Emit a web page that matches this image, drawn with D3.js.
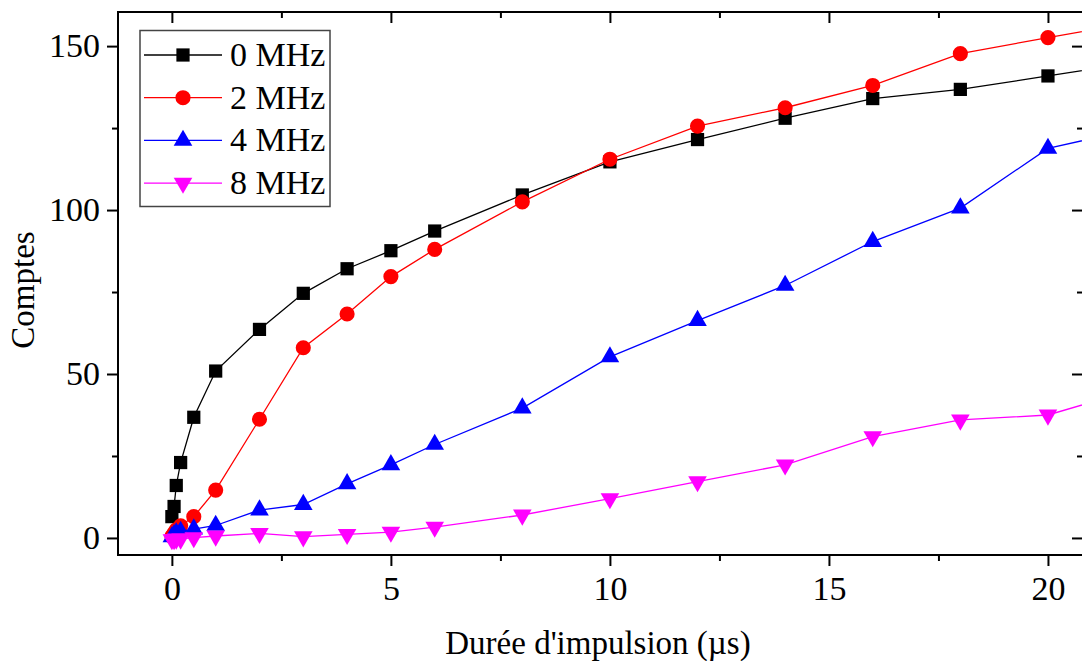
<!DOCTYPE html>
<html>
<head>
<script src="https://d3js.org/d3.v7.min.js"></script>
<style>
  body { margin: 0; background: #fff; }
  text { font-family: "Liberation Serif", "Times New Roman", serif; }
</style>
</head>
<body>
<script>

var w = 1082, h = 661;

// pulse duration (µs)
var durations = [0, 0.05, 0.1, 0.2, 0.5, 1, 2, 3, 4, 5, 6, 8, 10, 12, 14, 16, 18, 20, 22];

var counts0 = [6.5, 9.6, 16, 23, 36.8, 50.9, 63.6, 74.6, 82.1, 87.6, 93.6, 104.6, 114.7, 121.5, 128.0, 134.0, 136.8, 140.9, 145];
var counts2 = [0.5, 1.5, 2.5, 3.7, 6.5, 14.6, 36.2, 58.0, 68.3, 79.7, 88.0, 102.5, 115.5, 125.6, 131.2, 138.0, 147.7, 152.6, 157.2];
var counts4 = [0.3, 1, 1.5, 2, 2.7, 3.8, 8.5, 10.2, 16.5, 22.3, 28.5, 39.6, 55.2, 66.3, 77.0, 90.4, 100.6, 118.8, 124.8];
var counts8 = [-0.5, -0.5, -0.3, -0.3, 0.1, 0.6, 1.4, 0.4, 1.1, 1.8, 3.3, 7.0, 12.0, 17.2, 22.3, 30.9, 36.0, 37.5, 45.3];

var seriesNames = ["0 MHz", "2 MHz", "4 MHz", "8 MHz"];
var seriesColors = ["#000000", "#ff0000", "#0000ff", "#ff00ff"];

var xTicks = [0, 5, 10, 15, 20];
var xMinor = [2.5, 7.5, 12.5, 17.5];
var yTicks = [0, 50, 100, 150];
var yMinor = [25, 75, 125];

// plot frame (window.top is reserved, so use own names)
var pLeft = 118, pRight = 1083, pTop = 12, pBottom = 555;

var x = d3.scaleLinear().domain([-1.23, 20.8]).range([pLeft, pRight]);
var y = d3.scaleLinear().domain([-5.2, 160.4]).range([pBottom, pTop]);

var svg = d3.select("body").append("svg").attr("width", w).attr("height", h);

svg.append("clipPath").attr("id", "plot")
  .append("rect").attr("x", pLeft).attr("y", pTop).attr("width", pRight - pLeft).attr("height", pBottom - pTop);

// axes
function styleAxis(g){
  g.select(".domain").remove();
  g.selectAll("line").attr("stroke", "#000").attr("stroke-width", 2);
  g.selectAll("text").attr("font-size", "34px").attr("fill", "#000");
}

svg.append("g").attr("transform", "translate(0," + pBottom + ")")
  .call(d3.axisBottom(x).tickValues(xTicks).tickSize(11).tickPadding(10).tickFormat(d3.format("d")))
  .call(styleAxis);
svg.append("g").attr("transform", "translate(0," + pBottom + ")")
  .call(d3.axisBottom(x).tickValues(xMinor).tickSize(6).tickFormat(""))
  .call(styleAxis);
svg.append("g").attr("transform", "translate(0," + pTop + ")")
  .call(d3.axisBottom(x).tickValues(xTicks).tickSize(11).tickFormat(""))
  .call(styleAxis);
svg.append("g").attr("transform", "translate(0," + pTop + ")")
  .call(d3.axisBottom(x).tickValues(xMinor).tickSize(6).tickFormat(""))
  .call(styleAxis);

svg.append("g").attr("transform", "translate(" + pLeft + ",0)")
  .call(d3.axisLeft(y).tickValues(yTicks).tickSize(11).tickPadding(7).tickFormat(d3.format("d")))
  .call(styleAxis);
svg.append("g").attr("transform", "translate(" + pLeft + ",0)")
  .call(d3.axisLeft(y).tickValues(yMinor).tickSize(6).tickFormat(""))
  .call(styleAxis);
svg.append("g").attr("transform", "translate(" + pRight + ",0)")
  .call(d3.axisLeft(y).tickValues(yTicks).tickSize(11).tickFormat(""))
  .call(styleAxis);
svg.append("g").attr("transform", "translate(" + pRight + ",0)")
  .call(d3.axisLeft(y).tickValues(yMinor).tickSize(6).tickFormat(""))
  .call(styleAxis);

svg.append("rect").attr("x", pLeft).attr("y", pTop)
  .attr("width", pRight - pLeft).attr("height", pBottom - pTop)
  .attr("fill", "none").attr("stroke", "#000").attr("stroke-width", 2);

// titles
svg.append("text").attr("x", 598).attr("y", 654).attr("text-anchor", "middle")
  .attr("font-size", "33px").text("Durée d'impulsion (µs)");
svg.append("text").attr("transform", "translate(34,290) rotate(-90)")
  .attr("text-anchor", "middle").attr("font-size", "33px").text("Comptes");

// symbols
var symbols = [
  {type: d3.symbolSquare, size: 175, rot: 0},
  {type: d3.symbolCircle, size: 180, rot: 0},
  {type: d3.symbolTriangle, size: 150, rot: 0},
  {type: d3.symbolTriangle, size: 150, rot: 180}
];

var allCounts = [counts0, counts2, counts4, counts8];

var line = d3.line()
  .x(function(d){ return x(d[0]); })
  .y(function(d){ return y(d[1]); });

var plot = svg.append("g").attr("clip-path", "url(#plot)");

allCounts.forEach(function(vals, i){
  var pts = durations.map(function(d, j){ return [d, vals[j]]; });
  plot.append("path").datum(pts)
    .attr("d", line).attr("fill", "none")
    .attr("stroke", seriesColors[i]).attr("stroke-width", 1.3);
  plot.selectAll(".m" + i).data(pts).enter().append("path")
    .attr("class", "m" + i)
    .attr("d", d3.symbol().type(symbols[i].type).size(symbols[i].size))
    .attr("transform", function(d){
      return "translate(" + x(d[0]) + "," + y(d[1]) + ") rotate(" + symbols[i].rot + ")";
    })
    .attr("fill", seriesColors[i]);
});

// legend
var legend = svg.append("g");
legend.append("rect").attr("x", 140).attr("y", 30.5).attr("width", 190).attr("height", 176)
  .attr("fill", "#fff").attr("stroke", "#444").attr("stroke-width", 1.5);

seriesNames.forEach(function(name, i){
  var ly = 55 + i * 42.7;
  legend.append("line").attr("x1", 144).attr("x2", 222).attr("y1", ly).attr("y2", ly)
    .attr("stroke", seriesColors[i]).attr("stroke-width", 1.3);
  legend.append("path")
    .attr("d", d3.symbol().type(symbols[i].type).size(symbols[i].size))
    .attr("transform", "translate(183," + ly + ") rotate(" + symbols[i].rot + ")")
    .attr("fill", seriesColors[i]);
  legend.append("text").attr("x", 230).attr("y", ly + 11)
    .attr("font-size", "34px").text(name);
});

</script>
</body>
</html>
